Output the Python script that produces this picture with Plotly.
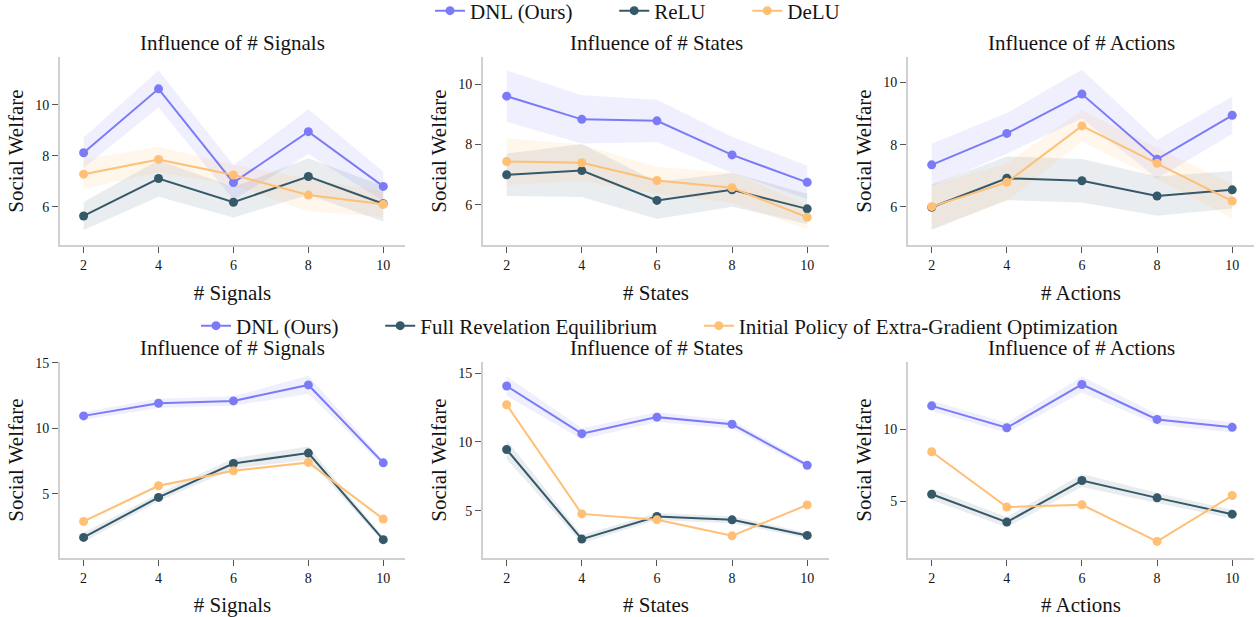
import plotly.graph_objects as go

x_vals = [2, 4, 6, 8, 10]

# Top row: network comparison
sig_dnl = [8.12, 10.63, 6.95, 8.95, 6.80]
sig_dnl_sd = [0.60, 0.72, 0.68, 0.88, 0.58]
sig_relu = [5.64, 7.11, 6.18, 7.19, 6.12]
sig_relu_sd = [0.55, 0.72, 0.60, 0.72, 0.70]
sig_delu = [7.28, 7.86, 7.25, 6.46, 6.10]
sig_delu_sd = [0.58, 0.50, 0.40, 0.64, 0.50]

st_dnl = [9.60, 8.83, 8.78, 7.65, 6.74]
st_dnl_sd = [0.85, 0.80, 0.70, 0.60, 0.55]
st_relu = [6.99, 7.13, 6.14, 6.49, 5.86]
st_relu_sd = [0.70, 0.88, 0.62, 0.56, 0.50]
st_delu = [7.43, 7.39, 6.80, 6.56, 5.58]
st_delu_sd = [0.78, 0.60, 0.45, 0.50, 0.40]

ac_dnl = [7.35, 8.36, 9.62, 7.53, 8.94]
ac_dnl_sd = [0.68, 0.65, 0.78, 0.62, 0.60]
ac_relu = [5.99, 6.92, 6.84, 6.35, 6.55]
ac_relu_sd = [0.73, 0.70, 0.70, 0.63, 0.60]
ac_delu = [6.01, 6.79, 8.60, 7.40, 6.19]
ac_delu_sd = [0.70, 0.60, 0.50, 0.50, 0.55]

# Bottom row: baseline comparison
sig2_dnl = [10.94, 11.90, 12.08, 13.30, 7.36]
sig2_dnl_sd = [0.30, 0.35, 0.35, 0.70, 0.20]
sig2_fre = [1.67, 4.72, 7.31, 8.10, 1.50]
sig2_fre_sd = [0.35, 0.30, 0.40, 0.50, 0.20]
sig2_init = [2.89, 5.61, 6.75, 7.39, 3.07]
sig2_init_sd = [0.10, 0.10, 0.10, 0.10, 0.10]

st2_dnl = [14.06, 10.60, 11.80, 11.28, 8.31]
st2_dnl_sd = [0.70, 0.40, 0.35, 0.30, 0.20]
st2_fre = [9.45, 2.95, 4.59, 4.35, 3.22]
st2_fre_sd = [0.70, 0.30, 0.25, 0.25, 0.20]
st2_init = [12.70, 4.78, 4.35, 3.19, 5.43]
st2_init_sd = [0.05, 0.05, 0.05, 0.05, 0.05]

ac2_dnl = [11.61, 10.09, 13.09, 10.67, 10.12]
ac2_dnl_sd = [0.35, 0.35, 0.55, 0.35, 0.35]
ac2_fre = [5.48, 3.55, 6.43, 5.23, 4.10]
ac2_fre_sd = [0.40, 0.35, 0.45, 0.35, 0.30]
ac2_init = [8.43, 4.59, 4.75, 2.21, 5.39]
ac2_init_sd = [0.05, 0.05, 0.05, 0.05, 0.05]

top_names = ["DNL (Ours)", "ReLU", "DeLU"]
bot_names = ["DNL (Ours)", "Full Revelation Equilibrium", "Initial Policy of Extra-Gradient Optimization"]
titles = ["Influence of # Signals", "Influence of # States", "Influence of # Actions"]
xtitles = ["# Signals", "# States", "# Actions"]
ytitle = "Social Welfare"

colors = ["#7B7BF7", "#36596A", "#FFBF75"]
fills = ["rgba(123,123,247,0.12)", "rgba(54,89,106,0.11)", "rgba(255,191,117,0.14)"]

panels = [
    [(sig_dnl, sig_dnl_sd), (sig_relu, sig_relu_sd), (sig_delu, sig_delu_sd)],
    [(st_dnl, st_dnl_sd), (st_relu, st_relu_sd), (st_delu, st_delu_sd)],
    [(ac_dnl, ac_dnl_sd), (ac_relu, ac_relu_sd), (ac_delu, ac_delu_sd)],
    [(sig2_dnl, sig2_dnl_sd), (sig2_fre, sig2_fre_sd), (sig2_init, sig2_init_sd)],
    [(st2_dnl, st2_dnl_sd), (st2_fre, st2_fre_sd), (st2_init, st2_init_sd)],
    [(ac2_dnl, ac2_dnl_sd), (ac2_fre, ac2_fre_sd), (ac2_init, ac2_init_sd)],
]
y_ranges = [[4.5, 11.88], [4.66, 10.9], [4.78, 10.81], [0.1, 15.05], [1.58, 15.8], [1.06, 14.65]]
y_dticks = [2, 2, 2, 5, 5, 5]

W, H = 1257, 617
ml, mr, mt, mb = 60, 3, 57, 59
pw, ph = W - ml - mr, H - mt - mb
col_px = [(60, 405), (483, 829), (908, 1254)]
row_px = [(57, 245), (362, 558)]

def xd(a, b):
    return [(a - ml) / pw, (b - ml) / pw]

def yd(top, bot):
    return [(H - mb - bot) / ph, (H - mb - top) / ph]

FONT = "Liberation Serif, Times New Roman, serif"
TXT = "rgb(20,20,20)"
PAD = "\u00a0" * 7

fig = go.Figure()
layout = {}
annotations = []
for i in range(6):
    r, c = divmod(i, 3)
    idx = "" if i == 0 else str(i + 1)
    xa, ya = "x" + idx, "y" + idx
    names = top_names if r == 0 else bot_names
    leg = "legend" if r == 0 else "legend2"
    # bands first
    for k, (m, sd) in enumerate(panels[i]):
        up = [a + b for a, b in zip(m, sd)]
        lo = [a - b for a, b in zip(m, sd)]
        fig.add_trace(go.Scatter(x=x_vals + x_vals[::-1], y=up + lo[::-1], fill="toself",
                                 fillcolor=fills[k], line=dict(width=0), mode="lines",
                                 hoverinfo="skip", showlegend=False, xaxis=xa, yaxis=ya))
    for k, (m, sd) in enumerate(panels[i]):
        label = names[k] + (PAD if k < 2 else "")
        fig.add_trace(go.Scatter(x=x_vals, y=m, mode="lines+markers", name=label,
                                 line=dict(color=colors[k], width=2),
                                 marker=dict(color=colors[k], size=9),
                                 showlegend=(c == 0), legend=leg, xaxis=xa, yaxis=ya))
    axcommon = dict(showline=True, linecolor="#d0d0d0", linewidth=2, ticks="outside",
                    ticklen=6, tickcolor="#555", showgrid=False, zeroline=False,
                    tickfont=dict(family=FONT, size=14, color=TXT),
                    title_font=dict(family=FONT, size=21, color=TXT))
    layout["xaxis" + idx] = dict(domain=xd(*col_px[c]), anchor=ya, range=[1.37, 10.58],
                                 tickvals=x_vals, title=dict(text=xtitles[c], standoff=14), **axcommon)
    layout["yaxis" + idx] = dict(domain=yd(*row_px[r]), anchor=xa, range=y_ranges[i],
                                 dtick=y_dticks[i], title=dict(text=ytitle, standoff=6), **axcommon)
    xdom = xd(*col_px[c])
    annotations.append(dict(text=titles[c], x=(xdom[0] + xdom[1]) / 2, y=yd(*row_px[r])[1],
                            xref="paper", yref="paper", xanchor="center", yanchor="bottom",
                            showarrow=False, font=dict(family=FONT, size=21, color=TXT)))

fig.update_layout(**layout)
fig.update_layout(
    width=W, height=H,
    margin=dict(l=ml, r=mr, t=mt, b=mb, autoexpand=False),
    plot_bgcolor="white", paper_bgcolor="white",
    font=dict(family=FONT, size=21, color=TXT),
    annotations=annotations,
    legend=dict(orientation="h", x=(430 - ml) / pw, xanchor="left", y=(H - mb - 11) / ph, yanchor="middle",
                font=dict(family=FONT, size=21, color=TXT), bgcolor="rgba(0,0,0,0)"),
    legend2=dict(orientation="h", x=(196 - ml) / pw, xanchor="left", y=(H - mb - 326) / ph, yanchor="middle",
                 font=dict(family=FONT, size=21, color=TXT), bgcolor="rgba(0,0,0,0)"),
)

fig.write_html("out.html", config={"displayModeBar": False},
               post_script="document.body.style.margin='0';document.body.style.overflow='hidden';")
